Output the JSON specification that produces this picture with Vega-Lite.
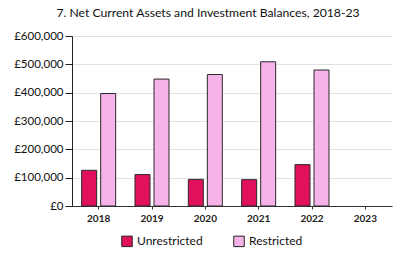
{
  "$schema": "https://vega.github.io/schema/vega-lite/v6.json",
  "width": 320,
  "height": 170,
  "autosize": {"type": "none"},
  "padding": {"left": 72, "top": 36, "right": 11, "bottom": 49},
  "background": "white",
  "title": {
    "text": "7. Net Current Assets and Investment Balances, 2018-23",
    "anchor": "middle",
    "dx": -24,
    "offset": 11,
    "font": "Lato",
    "fontSize": 12.2,
    "fontWeight": "normal",
    "color": "#111"
  },
  "data": {
    "values": [
      {"year": "2018", "type": "Unrestricted", "value": 126000},
      {"year": "2018", "type": "Restricted", "value": 397000},
      {"year": "2019", "type": "Unrestricted", "value": 111000},
      {"year": "2019", "type": "Restricted", "value": 448000},
      {"year": "2020", "type": "Unrestricted", "value": 94000},
      {"year": "2020", "type": "Restricted", "value": 464000},
      {"year": "2021", "type": "Unrestricted", "value": 93000},
      {"year": "2021", "type": "Restricted", "value": 509000},
      {"year": "2022", "type": "Unrestricted", "value": 146000},
      {"year": "2022", "type": "Restricted", "value": 480000}
    ]
  },
  "mark": {"type": "bar", "stroke": "#2a2a2a", "strokeWidth": 1},
  "encoding": {
    "x": {
      "field": "year",
      "type": "nominal",
      "scale": {"domain": ["2018", "2019", "2020", "2021", "2022", "2023"], "paddingInner": 0.362, "paddingOuter": 0.181},
      "axis": {
        "title": null,
        "labelAngle": 0,
        "labelFont": "Lato",
        "labelFontSize": 10,
        "labelFontWeight": "bold",
        "labelColor": "#222",
        "domainColor": "#333",
        "tickColor": "#333",
        "tickSize": 3,
        "labelPadding": 4,
        "grid": false
      }
    },
    "xOffset": {
      "field": "type",
      "type": "nominal",
      "sort": ["Unrestricted", "Restricted"],
      "scale": {"paddingInner": 0.21, "paddingOuter": 0}
    },
    "y": {
      "field": "value",
      "type": "quantitative",
      "scale": {"domain": [0, 600000], "nice": false},
      "axis": {
        "title": null,
        "values": [0, 100000, 200000, 300000, 400000, 500000, 600000],
        "labelExpr": "'£' + format(datum.value, ',')",
        "labelFont": "Lato",
        "labelFontSize": 11.5,
        "labelColor": "#111",
        "domainColor": "#222",
        "tickColor": "#222",
        "tickSize": 7,
        "labelPadding": 2,
        "gridColor": "#e2e2e2",
        "gridWidth": 1
      }
    },
    "color": {
      "field": "type",
      "type": "nominal",
      "sort": ["Unrestricted", "Restricted"],
      "scale": {"domain": ["Unrestricted", "Restricted"], "range": ["#e0105c", "#f6b3e8"]},
      "legend": {
        "title": null,
        "orient": "none",
        "legendX": 49,
        "legendY": 199,
        "direction": "horizontal",
        "symbolType": "square",
        "symbolSize": 110,
        "symbolStrokeColor": "#222",
        "symbolStrokeWidth": 1,
        "labelFont": "Lato",
        "labelFontSize": 12,
        "labelColor": "#111",
        "columnPadding": 28
      }
    }
  },
  "config": {"view": {"stroke": null}}
}
